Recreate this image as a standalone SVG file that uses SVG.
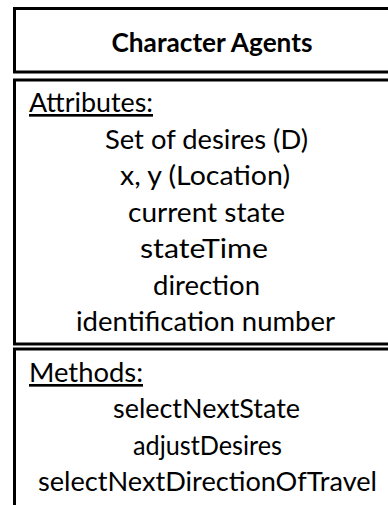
<svg xmlns="http://www.w3.org/2000/svg" width="388" height="505" viewBox="0 0 388 505">
  <style>
    .box { fill: #ffffff; stroke: #000000; stroke-width: 3; }
    .title { font-family: Lato, "Open Sans", "Liberation Sans", sans-serif; font-weight: bold; font-size: 26px; fill: #000000; text-anchor: middle; }
    .head { font-family: Lato, "Open Sans", "Liberation Sans", sans-serif; font-size: 26.5px; fill: #000000; text-decoration: underline; }
    .item { font-family: Lato, "Open Sans", "Liberation Sans", sans-serif; font-size: 26.5px; fill: #000000; text-anchor: middle; }
  </style>
  <rect x="0" y="0" width="388" height="505" fill="#ffffff"/>

  <!-- class name compartment -->
  <g id="class-name">
    <rect class="box" x="14.5" y="8.5" width="400" height="63.5"/>
    <text class="title" x="212" y="52" textLength="201" lengthAdjust="spacingAndGlyphs">Character Agents</text>
  </g>

  <!-- attributes compartment -->
  <g id="attributes">
    <rect class="box" x="14.5" y="80" width="400" height="264"/>
    <text class="head" x="29" y="112" textLength="124" lengthAdjust="spacingAndGlyphs">Attributes:</text>
    <text class="item" x="206.5" y="148.5" textLength="203" lengthAdjust="spacingAndGlyphs">Set of desires (D)</text>
    <text class="item" x="205" y="185" textLength="170" lengthAdjust="spacingAndGlyphs">x, y (Location)</text>
    <text class="item" x="206.5" y="221.5" textLength="157" lengthAdjust="spacingAndGlyphs">current state</text>
    <text class="item" x="204" y="258" textLength="128" lengthAdjust="spacingAndGlyphs">stateTime</text>
    <text class="item" x="206.5" y="294.5" textLength="107" lengthAdjust="spacingAndGlyphs">direction</text>
    <text class="item" x="205.5" y="331" textLength="259" lengthAdjust="spacingAndGlyphs">identification number</text>
  </g>

  <!-- methods compartment -->
  <g id="methods">
    <rect class="box" x="14.5" y="349" width="400" height="170"/>
    <text class="head" x="29" y="382" textLength="114" lengthAdjust="spacingAndGlyphs">Methods:</text>
    <text class="item" x="206.5" y="418" textLength="187" lengthAdjust="spacingAndGlyphs">selectNextState</text>
    <text class="item" x="207.5" y="454.5" textLength="149" lengthAdjust="spacingAndGlyphs">adjustDesires</text>
    <text class="item" x="207.5" y="491" textLength="339" lengthAdjust="spacingAndGlyphs">selectNextDirectionOfTravel</text>
  </g>
</svg>
